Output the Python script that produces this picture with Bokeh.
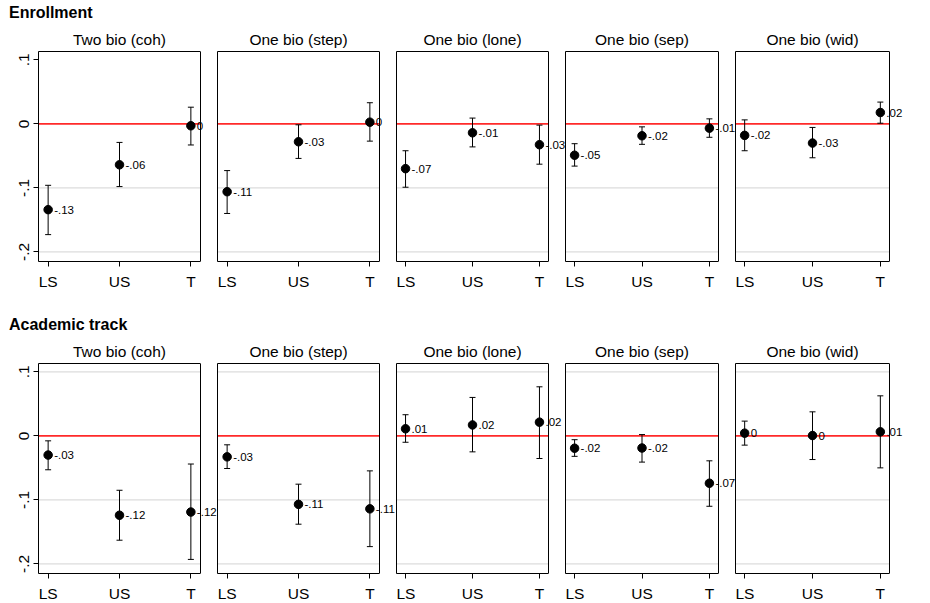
from bokeh.plotting import figure
from bokeh.models import (Range1d, FixedTicker, Whisker, ColumnDataSource,
                          LabelSet, TeeHead, LinearAxis)
from bokeh.layouts import column, row
from bokeh.embed import file_html
from bokeh.resources import INLINE
from bokeh.core.properties import value

# ---------------- data ----------------
categories = ["LS", "US", "T"]
panel_titles = ["Two bio (coh)", "One bio (step)", "One bio (lone)",
                "One bio (sep)", "One bio (wid)"]
row_titles = ["Enrollment", "Academic track"]
y_ticks = [-0.2, -0.1, 0, 0.1]
y_tick_labels = ["-.2", "-.1", "0", ".1"]

# Enrollment: point estimates and 95% CI, per panel (LS, US, T)
enroll_est = [[-0.134, -0.064, -0.003],
              [-0.106, -0.028, 0.0026],
              [-0.070, -0.014, -0.0326],
              [-0.049, -0.0186, -0.0067],
              [-0.018, -0.030, 0.0177]]
enroll_hi = [[-0.096, -0.029, 0.026],
             [-0.073, -0.0015, 0.033],
             [-0.042, 0.009, -0.002],
             [-0.031, -0.0047, 0.0078],
             [0.0062, -0.0056, 0.034]]
enroll_lo = [[-0.173, -0.098, -0.033],
             [-0.140, -0.054, -0.027],
             [-0.099, -0.036, -0.063],
             [-0.066, -0.032, -0.021],
             [-0.042, -0.053, 0.001]]

# Academic track
acad_est = [[-0.030, -0.124, -0.119],
            [-0.0328, -0.107, -0.114],
            [0.011, 0.017, 0.0214],
            [-0.0193, -0.019, -0.074],
            [0.0042, 0.0005, 0.0063]]
acad_hi = [[-0.0078, -0.085, -0.044],
           [-0.014, -0.0755, -0.0547],
           [0.033, 0.060, 0.0766],
           [-0.006, 0.002, -0.039],
           [0.023, 0.0375, 0.0625]]
acad_lo = [[-0.053, -0.163, -0.193],
           [-0.051, -0.138, -0.173],
           [-0.010, -0.025, -0.0354],
           [-0.032, -0.041, -0.110],
           [-0.0145, -0.037, -0.050]]

# grid lines shown per row
row_grid = [[-0.2, -0.1], [-0.2, -0.1, 0.1]]

# ---------------- layout / style ----------------
FONT = "Liberation Sans"
LBL = "15.5px"
BOX_H = 210                      # plot box height (px)
box_widths = [162, 162, 152, 153, 154]
right_ext = [17, 17, 17, 17, 30]  # room right of each box for value labels
HEADER_H = 24
TOP_B = 27
border_left = [38, 0, 0, 0, 0]
bottom_border = [51, 28]
XPAD = 0.135
Y_MIN, Y_MAX = -0.215, 0.113


def fmt(v):
    r = round(v, 2)
    if r == 0:
        return "0"
    return f"{r:.2f}".replace("0.", ".", 1)


def make_header(text):
    h = figure(width=sum(box_widths) + sum(right_ext) + border_left[0],
               height=HEADER_H, x_axis_location=None, y_axis_location=None,
               min_border=0, output_backend="svg", toolbar_location=None,
               title=text)
    h.outline_line_color = None
    h.grid.grid_line_color = None
    h.background_fill_color = "white"
    h.border_fill_color = "white"
    h.title.align = "left"
    h.title.offset = 8.5
    h.title.standoff = 2
    h.title.text_font = FONT
    h.title.text_font_size = "16px"
    h.title.text_font_style = "bold"
    h.title.text_color = "black"
    return h


def make_panel(r, i, est, lo, hi):
    n = len(categories)
    bx0, bx1 = 1 - XPAD, n + XPAD
    sx = box_widths[i] / (bx1 - bx0)
    p = figure(frame_width=box_widths[i] + right_ext[i],
               frame_height=BOX_H,
               x_range=Range1d(bx0, bx1 + right_ext[i] / sx),
               y_range=Range1d(Y_MIN, Y_MAX),
               min_border_left=border_left[i], min_border_right=0,
               min_border_top=TOP_B, min_border_bottom=bottom_border[r],
               x_axis_location="below", y_axis_location="left",
               output_backend="svg", toolbar_location=None)
    p.background_fill_color = "white"
    p.border_fill_color = "white"
    p.outline_line_color = None
    p.xgrid.grid_line_color = None
    p.ygrid.grid_line_color = None
    bot = p.below[0]
    left = p.left[0]

    # panel title centred above the box; its axis line is the box's top edge
    mid = (n + 1) / 2
    top_ax = LinearAxis(ticker=FixedTicker(ticks=[mid]),
                        major_label_overrides={mid: panel_titles[i]},
                        bounds=(bx0, bx1),
                        axis_line_color="black", axis_line_width=1,
                        major_tick_line_color=None,
                        minor_tick_line_color=None, major_tick_in=0,
                        major_tick_out=0, major_label_standoff=4,
                        major_label_text_font=FONT,
                        major_label_text_font_size=LBL,
                        major_label_text_color="black")
    p.add_layout(top_ax, "above")

    xs = list(range(1, n + 1))
    bot.ticker = FixedTicker(ticks=xs)
    bot.bounds = (bx0, bx1)
    bot.major_label_overrides = {x: c for x, c in zip(xs, categories)}
    bot.major_label_text_font = FONT
    bot.major_label_text_font_size = LBL
    bot.major_label_text_color = "black"
    bot.major_tick_out = 5
    bot.major_tick_in = 0
    bot.minor_tick_line_color = None
    bot.axis_line_color = "black"
    bot.major_tick_line_color = "black"
    bot.major_label_standoff = 6

    left.bounds = (Y_MIN, Y_MAX)
    left.axis_line_color = "black"
    left.minor_tick_line_color = None
    if i == 0:
        left.ticker = FixedTicker(ticks=y_ticks)
        left.major_label_overrides = {t: l for t, l in zip(y_ticks, y_tick_labels)}
        left.major_label_orientation = "vertical"
        left.major_label_text_font = FONT
        left.major_label_text_font_size = LBL
        left.major_label_text_color = "black"
        left.major_tick_out = 5
        left.major_tick_in = 0
        left.major_tick_line_color = "black"
        left.major_label_standoff = 4
    else:
        left.ticker = FixedTicker(ticks=[])
        left.major_tick_out = 0
        left.major_tick_in = 0
        left.major_label_standoff = 0
        left.major_tick_line_color = None

    # grid lines and zero line across the box only
    g = row_grid[r]
    p.segment(x0=[bx0] * len(g), x1=[bx1] * len(g), y0=g, y1=g,
              line_color="#dcdcdc", line_width=1.2)
    p.segment(x0=[bx0], x1=[bx1], y0=[0], y1=[0],
              line_color="#ff2a2a", line_width=1.6)

    src = ColumnDataSource(dict(x=xs, est=est, lo=lo, hi=hi,
                                lab=[fmt(v) for v in est]))
    p.add_layout(Whisker(source=src, base="x", upper="hi", lower="lo",
                         dimension="height", line_color="black", line_width=1,
                         level="glyph",
                         upper_head=TeeHead(size=6, line_color="black", line_width=1),
                         lower_head=TeeHead(size=6, line_color="black", line_width=1)))
    p.scatter("x", "est", source=src, size=8.5, color="black")
    p.add_layout(LabelSet(source=src, x="x", y="est", text="lab",
                          x_offset=6, y_offset=0, text_baseline="middle",
                          text_align="left", text_font=value(FONT),
                          text_font_size="11.5px", text_color="black"))
    # right edge of the plot box
    p.segment(x0=[bx1], x1=[bx1], y0=[Y_MIN], y1=[Y_MAX],
              line_color="black", line_width=1)
    return p


blocks = []
for r, (E, L, H) in enumerate([(enroll_est, enroll_lo, enroll_hi),
                               (acad_est, acad_lo, acad_hi)]):
    blocks.append(make_header(row_titles[r]))
    panels = [make_panel(r, i, E[i], L[i], H[i]) for i in range(5)]
    blocks.append(row(*panels, spacing=0))

layout = column(*blocks, spacing=0)
open("out.html", "w").write(file_html(layout, INLINE))
